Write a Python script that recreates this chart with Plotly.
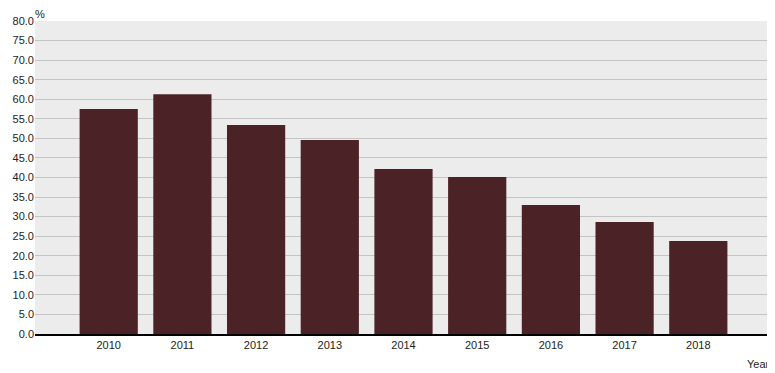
import plotly.graph_objects as go

years = ["2010", "2011", "2012", "2013", "2014", "2015", "2016", "2017", "2018"]
values = [57.5, 61.3, 53.4, 49.6, 42.2, 40.1, 33.0, 28.6, 23.8]
y_ticks = [i * 5.0 for i in range(17)]

fig = go.Figure()
fig.add_trace(go.Bar(x=years, y=values, marker=dict(color="#4b2226", line=dict(width=0)),
                     hoverinfo="x+y"))

# page body has an 8px margin, so the figure is sized/offset to compensate
fig.update_layout(
    width=767, height=365,
    margin=dict(l=27, r=3, t=13, b=39),
    paper_bgcolor="white",
    plot_bgcolor="#ececec",
    bargap=0.21,
    showlegend=False,
    font=dict(family="Arial, Liberation Sans, sans-serif", size=11, color="#222222"),
    xaxis=dict(
        type="category",
        range=[-1, 9],
        showgrid=False,
        showline=True, linecolor="black", linewidth=2,
        ticks="", tickfont=dict(size=11, color="#222222"),
        automargin=False,
    ),
    yaxis=dict(
        range=[0, 80],
        tickvals=y_ticks,
        ticktext=[f"{v:.1f}" for v in y_ticks],
        showgrid=True, gridcolor="#c4c4c4", gridwidth=1,
        zeroline=False,
        showline=False,
        ticks="", tickfont=dict(size=11, color="#222222"),
        automargin=False,
    ),
    annotations=[
        dict(text="%", xref="paper", yref="paper", x=0, y=1, xanchor="left", yanchor="bottom",
             xshift=-2, yshift=-1, showarrow=False, font=dict(size=11, color="#222222")),
        dict(text="Year", xref="paper", yref="paper", x=1, y=0, xanchor="right", yanchor="top",
             xshift=0, yshift=-22, showarrow=False, font=dict(size=11, color="#222222")),
    ],
)

fig.write_html("out.html")
